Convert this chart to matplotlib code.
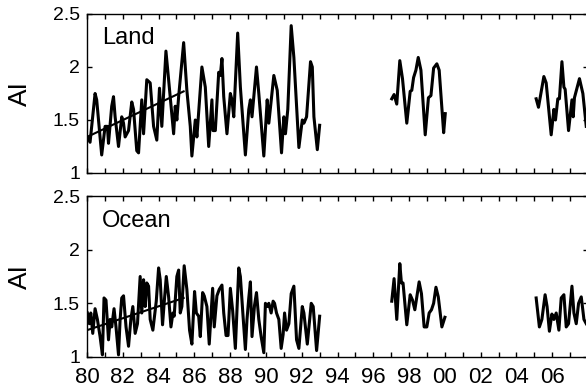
#!/usr/bin/env python3
"""
Land / Ocean AI time series, 1980-2007 (two stacked panels)
"""
import matplotlib
matplotlib.use("Agg")
import matplotlib.pyplot as plt
from matplotlib.ticker import MultipleLocator, FuncFormatter

plt.rcParams["font.family"] = ["Liberation Sans", "DejaVu Sans"]

# ── DATA ────────────────────────────────────────────────────────
# Land, 1980-1993
land1_yr = [1980.02, 1980.17, 1980.45, 1980.54, 1980.82, 1981.01, 1981.14, 1981.20,
            1981.38, 1981.48, 1981.57, 1981.76, 1981.94, 1982.04, 1982.13, 1982.32,
            1982.50, 1982.60, 1982.78, 1982.88, 1983.06, 1983.16, 1983.34, 1983.53,
            1983.72, 1983.90, 1984.05, 1984.18, 1984.41, 1984.56, 1984.84, 1984.93,
            1985.02, 1985.12, 1985.40, 1985.58, 1985.77, 1985.86, 1986.05, 1986.14,
            1986.42, 1986.61, 1986.80, 1986.98, 1987.04, 1987.17, 1987.36, 1987.45,
            1987.54, 1987.64, 1987.82, 1988.01, 1988.10, 1988.20, 1988.42, 1988.57,
            1988.85, 1989.04, 1989.13, 1989.22, 1989.47, 1989.60, 1989.88, 1990.07,
            1990.16, 1990.44, 1990.63, 1990.87, 1991.00, 1991.09, 1991.22, 1991.41,
            1991.56, 1991.84, 1992.03, 1992.12, 1992.27, 1992.49, 1992.59, 1992.68,
            1992.87, 1993.00]
land1 = [1.34, 1.29, 1.75, 1.69, 1.17, 1.44, 1.44, 1.28,
         1.63, 1.72, 1.53, 1.25, 1.53, 1.47, 1.34, 1.40,
         1.67, 1.60, 1.21, 1.19, 1.69, 1.37, 1.88, 1.85,
         1.44, 1.31, 1.80, 1.44, 2.15, 1.88, 1.37, 1.63,
         1.50, 1.72, 2.23, 1.78, 1.44, 1.16, 1.50, 1.34,
         2.00, 1.81, 1.25, 1.69, 1.40, 1.40, 1.95, 1.92,
         2.08, 1.72, 1.37, 1.75, 1.69, 1.53, 2.32, 1.81,
         1.17, 1.60, 1.69, 1.53, 2.00, 1.75, 1.16, 1.69,
         1.47, 1.92, 1.78, 1.19, 1.53, 1.37, 1.60, 2.39,
         2.09, 1.24, 1.50, 1.47, 1.53, 2.05, 2.00, 1.53,
         1.22, 1.45]
# Land, 1997-2000
land2_yr = [1997.03, 1997.16, 1997.31, 1997.48, 1997.63, 1997.87, 1998.06, 1998.15,
            1998.25, 1998.38, 1998.51, 1998.66, 1998.90, 1999.08, 1999.22, 1999.37,
            1999.55, 1999.68, 1999.93, 2000.02]
land2 = [1.70, 1.74, 1.65, 2.06, 1.89, 1.47, 1.77, 1.78,
         1.90, 1.97, 2.09, 1.97, 1.36, 1.71, 1.73, 1.99,
         2.03, 1.97, 1.38, 1.56]
# Land, 2005-2008
land3_yr = [2005.10, 2005.23, 2005.53, 2005.66, 2005.94, 2006.09, 2006.18, 2006.31,
            2006.40, 2006.54, 2006.65, 2006.72, 2006.91, 2007.10, 2007.17, 2007.24,
            2007.52, 2007.71, 2007.90]
land3 = [1.70, 1.62, 1.91, 1.85, 1.36, 1.60, 1.50, 1.70,
         1.70, 2.05, 1.81, 1.79, 1.40, 1.69, 1.53, 1.71,
         1.89, 1.75, 1.44]

# Ocean, 1980-1993
ocean1_yr = [1980.02, 1980.13, 1980.21, 1980.32, 1980.45, 1980.58, 1980.73, 1980.86,
             1980.95, 1981.06, 1981.20, 1981.29, 1981.38, 1981.51, 1981.62, 1981.76,
             1981.85, 1981.94, 1982.04, 1982.18, 1982.32, 1982.45, 1982.56, 1982.69,
             1982.82, 1982.97, 1983.06, 1983.16, 1983.25, 1983.34, 1983.44, 1983.53,
             1983.68, 1983.87, 1984.00, 1984.09, 1984.22, 1984.31, 1984.43, 1984.56,
             1984.69, 1984.80, 1984.87, 1985.02, 1985.12, 1985.21, 1985.30, 1985.43,
             1985.58, 1985.73, 1985.86, 1986.01, 1986.11, 1986.24, 1986.33, 1986.46,
             1986.55, 1986.70, 1986.83, 1987.02, 1987.11, 1987.26, 1987.39, 1987.54,
             1987.64, 1987.77, 1987.88, 1988.01, 1988.14, 1988.29, 1988.48, 1988.57,
             1988.72, 1988.85, 1988.94, 1989.04, 1989.13, 1989.22, 1989.36, 1989.47,
             1989.60, 1989.73, 1989.88, 1989.97, 1990.07, 1990.16, 1990.29, 1990.40,
             1990.48, 1990.59, 1990.72, 1990.85, 1990.96, 1991.04, 1991.15, 1991.28,
             1991.41, 1991.56, 1991.71, 1991.84, 1992.03, 1992.12, 1992.31, 1992.53,
             1992.64, 1992.83, 1993.00]
ocean1 = [1.41, 1.31, 1.41, 1.22, 1.45, 1.35, 1.19, 1.02,
          1.55, 1.53, 1.16, 1.35, 1.28, 1.45, 1.28, 1.02,
          1.35, 1.55, 1.57, 1.28, 1.10, 1.35, 1.47, 1.22,
          1.31, 1.75, 1.41, 1.72, 1.47, 1.69, 1.66, 1.35,
          1.25, 1.52, 1.83, 1.72, 1.30, 1.50, 1.75, 1.56,
          1.28, 1.41, 1.38, 1.75, 1.81, 1.41, 1.47, 1.85,
          1.63, 1.25, 1.12, 1.61, 1.41, 1.38, 1.19, 1.60,
          1.57, 1.47, 1.12, 1.64, 1.28, 1.57, 1.63, 1.67,
          1.41, 1.20, 1.20, 1.64, 1.43, 1.08, 1.83, 1.75,
          1.38, 1.07, 1.35, 1.55, 1.70, 1.19, 1.48, 1.60,
          1.35, 1.19, 1.04, 1.50, 1.47, 1.50, 1.41, 1.52,
          1.50, 1.41, 1.35, 1.08, 1.21, 1.41, 1.25, 1.31,
          1.59, 1.66, 1.16, 1.08, 1.47, 1.41, 1.12, 1.50,
          1.47, 1.06, 1.38]
# Ocean, 1997-2000
ocean2_yr = [1997.03, 1997.16, 1997.31, 1997.48, 1997.57, 1997.66, 1997.87, 1998.06,
             1998.19, 1998.32, 1998.56, 1998.69, 1998.84, 1998.99, 1999.12, 1999.25,
             1999.37, 1999.50, 1999.63, 1999.83, 2000.00]
ocean2 = [1.52, 1.73, 1.35, 1.87, 1.69, 1.69, 1.30, 1.58,
          1.53, 1.44, 1.70, 1.59, 1.28, 1.28, 1.41, 1.44,
          1.50, 1.65, 1.56, 1.28, 1.37]
# Ocean, 2005-2008
ocean3_yr = [2005.10, 2005.28, 2005.42, 2005.60, 2005.71, 2005.84, 2005.98, 2006.09,
             2006.22, 2006.37, 2006.50, 2006.65, 2006.78, 2006.91, 2007.10, 2007.21,
             2007.34, 2007.47, 2007.62, 2007.77, 2007.90]
ocean3 = [1.55, 1.28, 1.35, 1.58, 1.47, 1.24, 1.40, 1.35,
          1.41, 1.25, 1.55, 1.58, 1.28, 1.31, 1.66, 1.41,
          1.31, 1.50, 1.56, 1.35, 1.31]

# linear trends 1980-1985.4
trend_yr = [1980.0, 1985.4]
land_trend = [1.34, 1.77]
ocean_trend = [1.25, 1.55]

panels = [
    ("Land", [(land1_yr, land1), (land2_yr, land2), (land3_yr, land3)], land_trend),
    ("Ocean", [(ocean1_yr, ocean1), (ocean2_yr, ocean2), (ocean3_yr, ocean3)], ocean_trend),
]

# ── FIGURE ──────────────────────────────────────────────────────
fig = plt.figure(figsize=(5.86, 3.92), dpi=100)
# right spine sits just past the image edge, as in the reference crop
rects = [[0.1485, 0.5587, 0.855, 0.4056],
         [0.1485, 0.0893, 0.855, 0.4107]]

for i, ((name, segs, trend), rect) in enumerate(zip(panels, rects)):
    ax = fig.add_axes(rect)
    for yr, vals in segs:
        ax.plot(yr, vals, color="black", lw=2.2, solid_joinstyle="round")
    ax.plot(trend_yr, trend, color="black", lw=1.5)

    ax.set_xlim(1980, 2008)
    ax.set_ylim(1, 2.5)
    ax.xaxis.set_major_locator(MultipleLocator(2))
    ax.xaxis.set_minor_locator(MultipleLocator(1))
    ax.yaxis.set_major_locator(MultipleLocator(0.5))
    ax.xaxis.set_major_formatter(
        FuncFormatter(lambda v, p: f"{int(round(v)) % 100:02d}" if v < 2007 else ""))
    ax.yaxis.set_major_formatter(FuncFormatter(lambda v, p: f"{v:g}"))
    ax.tick_params(which="both", direction="in", top=True, right=True,
                   length=3.5, width=1.0)
    ax.tick_params(axis="x", labelsize=16, pad=7)
    ax.tick_params(axis="y", labelsize=14, pad=5)
    if i == 0:
        ax.tick_params(axis="x", labelbottom=False)
    for sp in ax.spines.values():
        sp.set_linewidth(1.0)

    ax.text(0.03, 0.81, name, transform=ax.transAxes, fontsize=17,
            ha="left", va="baseline")
    ax.text(-0.134, 0.5, "AI", transform=ax.transAxes, fontsize=19,
            rotation=90, ha="center", va="center")

fig.savefig("out.png", dpi=100)
plt.close(fig)
